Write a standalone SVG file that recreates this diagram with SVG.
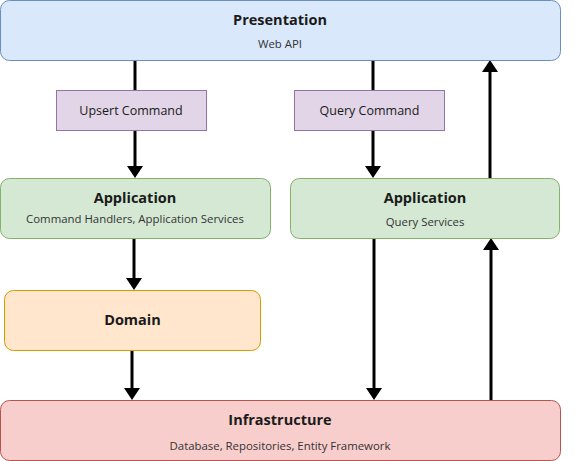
<svg xmlns="http://www.w3.org/2000/svg" width="577" height="461" viewBox="0 0 577 461">
<style>
  .box { stroke-width: 1; }
  .blue { fill: #dae8fc; stroke: #6c8ebf; }
  .purple { fill: #e1d5e7; stroke: #9673a6; }
  .green { fill: #d5e8d4; stroke: #82b366; }
  .orange { fill: #ffe6cc; stroke: #d79b00; }
  .red { fill: #f8cecc; stroke: #b85450; }
  .title { font-family: "Open Sans", "Noto Sans", sans-serif; font-weight: bold; font-size: 14.5px; fill: #1a1a1a; text-anchor: middle; }
  .sub { font-family: "Open Sans", "Noto Sans", sans-serif; font-size: 11.4px; fill: #333333; text-anchor: middle; }
  .cmd { font-family: "Open Sans", "Noto Sans", sans-serif; font-size: 12.5px; fill: #1a1a1a; text-anchor: middle; }
  .conn { stroke: #000000; stroke-width: 3; fill: none; }
</style>
<defs>
  <marker id="arrow" viewBox="0 0 12 16" markerWidth="12" markerHeight="16" refX="2" refY="8" orient="auto" markerUnits="userSpaceOnUse">
    <path d="M0,0 L12,8 L0,16 Z" fill="#000000"/>
  </marker>
</defs>
<g id="connectors">
  <line class="conn" x1="135" y1="61" x2="135" y2="168" marker-end="url(#arrow)"/>
  <line class="conn" x1="373" y1="61" x2="373" y2="168" marker-end="url(#arrow)"/>
  <line class="conn" x1="490" y1="178" x2="490" y2="70" marker-end="url(#arrow)"/>
  <line class="conn" x1="134" y1="239" x2="134" y2="280" marker-end="url(#arrow)"/>
  <line class="conn" x1="132" y1="351" x2="132" y2="390" marker-end="url(#arrow)"/>
  <line class="conn" x1="374" y1="239" x2="374" y2="390" marker-end="url(#arrow)"/>
  <line class="conn" x1="491" y1="400" x2="491" y2="248" marker-end="url(#arrow)"/>
</g>
<g id="presentation">
  <rect class="box blue" x="0.5" y="0.5" width="560" height="60" rx="9"/>
  <text class="title" x="280" y="25">Presentation</text>
  <text class="sub" x="280" y="48">Web API</text>
</g>
<g id="upsert-command">
  <rect class="box purple" x="56.5" y="90.5" width="150" height="40"/>
  <text class="cmd" x="131" y="114.5">Upsert Command</text>
</g>
<g id="query-command">
  <rect class="box purple" x="294.5" y="90.5" width="150" height="40"/>
  <text class="cmd" x="369.5" y="114.5">Query Command</text>
</g>
<g id="application-command">
  <rect class="box green" x="0.5" y="178.5" width="270" height="60" rx="9"/>
  <text class="title" x="135" y="203">Application</text>
  <text class="sub" x="135" y="223">Command Handlers, Application Services</text>
</g>
<g id="application-query">
  <rect class="box green" x="290.5" y="178.5" width="269" height="60" rx="9"/>
  <text class="title" x="425" y="203">Application</text>
  <text class="sub" x="425" y="226">Query Services</text>
</g>
<g id="domain">
  <rect class="box orange" x="4.5" y="290.5" width="256" height="60" rx="9"/>
  <text class="title" x="132.5" y="325">Domain</text>
</g>
<g id="infrastructure">
  <rect class="box red" x="0.5" y="400.5" width="560" height="60" rx="9"/>
  <text class="title" x="280" y="425">Infrastructure</text>
  <text class="sub" x="280" y="450">Database, Repositories, Entity Framework</text>
</g>
</svg>
